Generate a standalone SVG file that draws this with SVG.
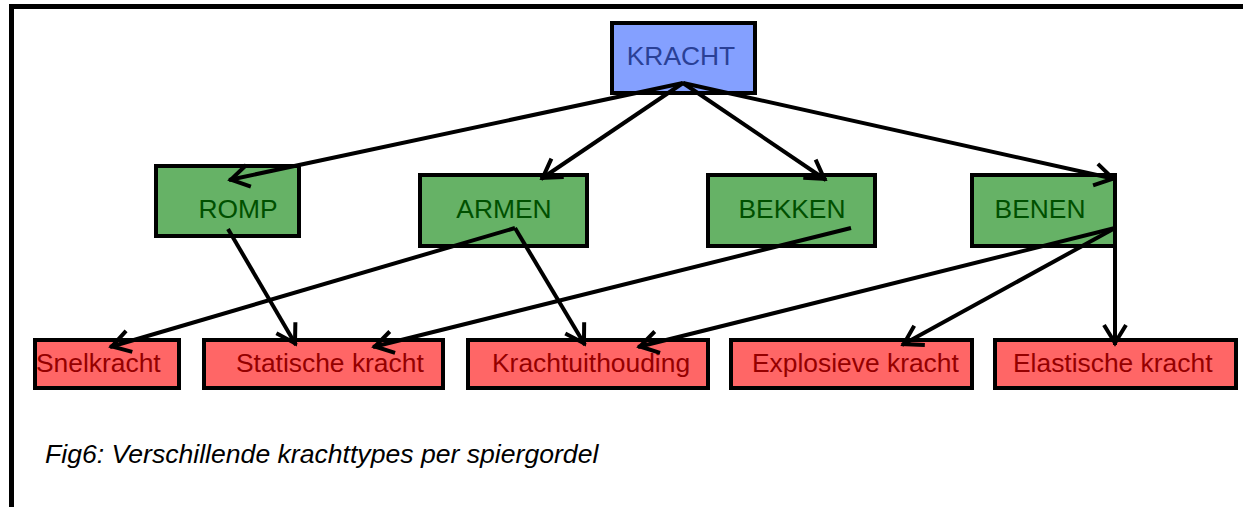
<svg xmlns="http://www.w3.org/2000/svg" width="1243" height="507" viewBox="0 0 1243 507">
<style>
.box{stroke:#000;stroke-width:4}
.top{fill:#84a0ff}
.mid{fill:#66b266}
.bot{fill:#ff6666}
.t{font-family:"Liberation Sans",Arial,sans-serif;font-size:26.4px}
.tt{fill:#2a4096}
.tm{fill:#005000}
.tb{fill:#950000}
.c line{stroke:#000;stroke-width:4;marker-end:url(#arr)}
.cap{font-family:"Liberation Sans",Arial,sans-serif;font-size:26.6px;font-style:italic;fill:#000}
</style>
<defs>
<marker id="arr" markerUnits="userSpaceOnUse" orient="auto" overflow="visible" refX="0" refY="0" markerWidth="30" markerHeight="30">
<path d="M-20,-11 L-2,0 L-20,11" fill="none" stroke="#000" stroke-width="4"/>
</marker>
</defs>
<rect width="1243" height="507" fill="#fff"/>
<path d="M11.5,507 V6.5 H1243" fill="none" stroke="#000" stroke-width="5"/>

<g id="kracht"><rect class="box top" x="612" y="23" width="143" height="70"/><text class="t tt" x="681" y="65" text-anchor="middle">KRACHT</text></g>
<g id="romp"><rect class="box mid" x="156" y="166" width="143" height="70"/><text class="t tm" x="238" y="218" text-anchor="middle">ROMP</text></g>
<g id="armen"><rect class="box mid" x="420" y="175" width="167" height="71"/><text class="t tm" x="504" y="218" text-anchor="middle">ARMEN</text></g>
<g id="bekken"><rect class="box mid" x="708" y="175" width="167" height="71"/><text class="t tm" x="792" y="218" text-anchor="middle">BEKKEN</text></g>
<g id="benen"><rect class="box mid" x="972" y="175" width="143" height="71"/><text class="t tm" x="1040" y="218" text-anchor="middle">BENEN</text></g>

<g id="snelkracht"><rect class="box bot" x="35" y="340" width="144" height="48"/><text class="t tb" x="36" y="372">Snelkracht</text></g>
<g id="statische"><rect class="box bot" x="204" y="340" width="239" height="48"/><text class="t tb" x="236" y="372">Statische kracht</text></g>
<g id="krachtuithouding"><rect class="box bot" x="468" y="340" width="240" height="48"/><text class="t tb" x="492" y="372">Krachtuithouding</text></g>
<g id="explosieve"><rect class="box bot" x="731" y="340" width="241" height="48"/><text class="t tb" x="752" y="372">Explosieve kracht</text></g>
<g id="elastische"><rect class="box bot" x="995" y="340" width="241" height="48"/><text class="t tb" x="1013" y="372">Elastische kracht</text></g>

<g id="connectors" class="c">
<line x1="683" y1="83" x2="229" y2="180"/>
<line x1="683" y1="83" x2="541" y2="179"/>
<line x1="683" y1="83" x2="826" y2="180"/>
<line x1="683" y1="83" x2="1115" y2="179"/>
<line x1="228" y1="229" x2="296" y2="345"/>
<line x1="515" y1="228" x2="110" y2="347"/>
<line x1="515" y1="228" x2="585" y2="345"/>
<line x1="851" y1="228" x2="373" y2="347"/>
<line x1="1115" y1="228" x2="638" y2="347"/>
<line x1="1115" y1="228" x2="902" y2="345"/>
<line x1="1115" y1="175" x2="1115" y2="345"/>
</g>

<text class="cap" x="45" y="463">Fig6: Verschillende krachttypes per spiergordel</text>
</svg>
